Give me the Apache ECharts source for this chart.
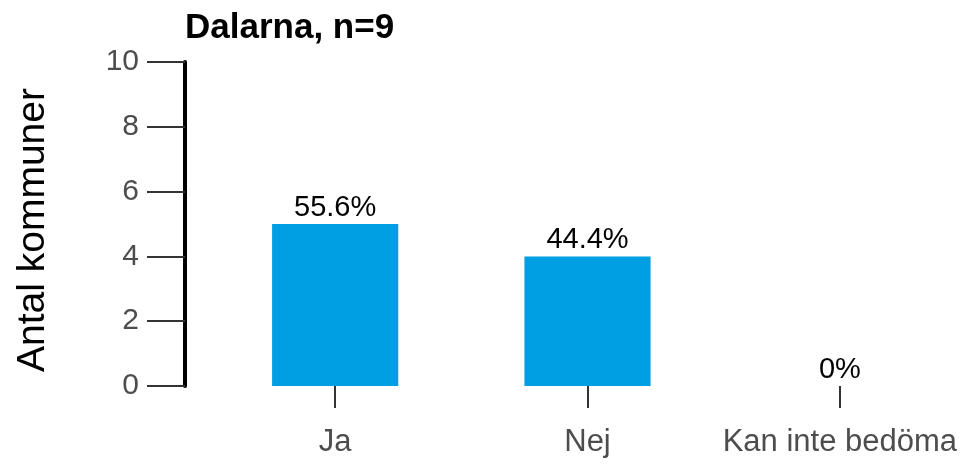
<!DOCTYPE html>
<html>
<head>
<meta charset="utf-8">
<script src="https://cdn.jsdelivr.net/npm/echarts@6/dist/echarts.min.js"></script>
<style>
  html, body { margin: 0; padding: 0; background: #fff; }
  #ch1 { width: 971px; height: 464px; }
</style>
</head>
<body>
<div id="ch1"></div>
<script>
var categories = ['Ja', 'Nej', 'Kan inte bedöma'];
var counts = [5, 4, 0];
var percentLabels = ['55.6%', '44.4%', '0%'];
var yTicks = [0, 2, 4, 6, 8, 10];

window.onload = function() {
  var ch1 = echarts.init(document.getElementById('ch1'));
  var op1 = {
    animation: false,
    title: {
      text: 'Dalarna, n=9',
      left: 180,
      top: 6,
      textStyle: {
        fontFamily: 'Liberation Sans',
        fontWeight: 'bold',
        fontSize: 35,
        color: '#000'
      }
    },
    grid: {
      left: 209,
      right: 5,
      top: 62,
      bottom: 78
    },
    xAxis: {
      type: 'category',
      data: categories,
      offset: 14,
      axisLine: { show: false },
      axisTick: {
        show: true,
        alignWithLabel: true,
        length: 22,
        lineStyle: { color: '#333', width: 2 }
      },
      axisLabel: {
        interval: 0,
        margin: 27,
        fontFamily: 'Liberation Sans',
        fontSize: 31,
        color: '#4d4d4d'
      }
    },
    yAxis: {
      type: 'value',
      min: yTicks[0],
      max: yTicks[yTicks.length - 1],
      interval: 2,
      offset: 24,
      name: 'Antal kommuner',
      nameLocation: 'middle',
      nameGap: 132,
      nameTextStyle: {
        fontFamily: 'Liberation Sans',
        fontSize: 39,
        color: '#000',
        padding: [0, 12, 0, 0]
      },
      splitLine: { show: false },
      axisLine: {
        show: true,
        lineStyle: { color: '#000', width: 4 }
      },
      axisTick: {
        show: true,
        length: 38,
        lineStyle: { color: '#333', width: 2 }
      },
      axisLabel: {
        margin: 46,
        fontFamily: 'Liberation Sans',
        fontSize: 30,
        color: '#4d4d4d'
      }
    },
    series: [{
      type: 'bar',
      data: counts,
      barWidth: '50%',
      itemStyle: { color: '#009fe3' },
      label: {
        show: true,
        position: 'top',
        distance: 2,
        fontFamily: 'Liberation Sans',
        fontSize: 29,
        color: '#000',
        formatter: function(p) { return percentLabels[p.dataIndex]; }
      }
    }]
  };
  ch1.setOption(op1);
};
</script>
</body>
</html>
